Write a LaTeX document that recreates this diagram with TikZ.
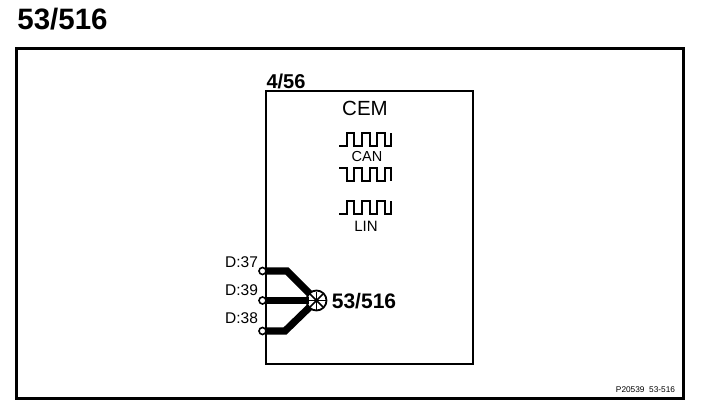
\documentclass[tikz,border=0pt]{standalone}
\usepackage{fontspec}
\setmainfont{Liberation Sans}
\usepackage{tikz}
\usetikzlibrary{positioning,arrows,calc}

\newcommand{\fs}[1]{\fontsize{#1}{#1}\selectfont}

\tikzset{
  frameline/.style={draw,line width=2.5pt},
  boxline/.style={draw,line width=1.5pt},
  wire/.style={line width=7.2pt,line join=miter},
  wave/.style={line width=1.8pt,line join=miter},
  pin/.style={circle,draw,fill=white,line width=1.6pt,inner sep=0pt,minimum size=7pt},
  txt/.style={inner sep=0pt,text=black}
}

\begin{document}
\begin{tikzpicture}[x=1pt,y=-1pt]

  \useasboundingbox (0,0) rectangle (704,414);

  \node[txt,font=\fs{29.5}\bfseries] (title) at (62.5,19) {53/516};
  \node[frameline,minimum width=667pt,minimum height=350pt,inner sep=0pt] (frame) at (350,223.5) {};
  \node[boxline,minimum width=207pt,minimum height=273pt,inner sep=0pt] (cem) at (369.5,227.5) {};

  \node[txt,font=\fs{20}\bfseries] (cemref) at (286,81) {4/56};
  \node[txt,font=\fs{20.5}] (cemname) at (365,108) {CEM};

  % waveforms
  \draw[wave] (339,146) -- ++(8,0) -- ++(0,-13) -- ++(7,0) -- ++(0,13) -- ++(8,0)
    -- ++(0,-13) -- ++(8,0) -- ++(0,13) -- ++(7,0) -- ++(0,-13) -- ++(8,0) -- ++(0,13)
    -- ++(6,0) -- ++(0,-13);
  \node[txt,font=\fs{14.5}] (can) at (367,157) {CAN};
  \draw[wave,line width=2.6pt] (339,168) -- ++(8,0) -- ++(0,13) -- ++(7,0) -- ++(0,-13) -- ++(8,0)
    -- ++(0,13) -- ++(8,0) -- ++(0,-13) -- ++(7,0) -- ++(0,13) -- ++(8,0) -- ++(0,-13)
    -- ++(6,0) -- ++(0,13);
  \draw[wave] (339,214) -- ++(8,0) -- ++(0,-13) -- ++(7,0) -- ++(0,13) -- ++(8,0)
    -- ++(0,-13) -- ++(8,0) -- ++(0,13) -- ++(7,0) -- ++(0,-13) -- ++(8,0) -- ++(0,13)
    -- ++(6,0) -- ++(0,-13);
  \node[txt,font=\fs{15}] (lin) at (366,226) {LIN};

  % connector
  \coordinate (hub) at (316.5,300.5);
  \coordinate (b1) at (287,271);
  \coordinate (b3) at (285,331);

  \node[pin] (p1) at (262.5,271) {};
  \node[pin] (p2) at (262.5,300.5) {};
  \node[pin] (p3) at (262.5,331) {};

  \node[circle,draw,fill=white,line width=1.8pt,inner sep=0pt,minimum size=20pt] (hubc) at (hub) {};
  \foreach \a in {0,45,...,315}
    \draw[line width=1.6pt] (hub) -- ++(\a:9);
  \fill (hub) circle (2pt);

  \draw[wire] (p1) -- (b1) -- ($(b1)!0.78!(hub)$);
  \draw[wire] (p2) -- ($(p2)!0.87!(hub)$);
  \draw[wire] (p3) -- (b3) -- ($(b3)!0.78!(hub)$);

  \node[txt,font=\fs{15.5}] (d37) at (241.5,262) {D:37};
  \node[txt,font=\fs{15.5}] (d39) at (241.5,290) {D:39};
  \node[txt,font=\fs{15.5}] (d38) at (241.5,318) {D:38};
  \node[txt,font=\fs{21}\bfseries] (conn) at (364,301) {53/516};

  \node[txt,font=\fs{8.3}] (code) at (645.5,390) {P20539~~53-516};

\end{tikzpicture}
\end{document}
